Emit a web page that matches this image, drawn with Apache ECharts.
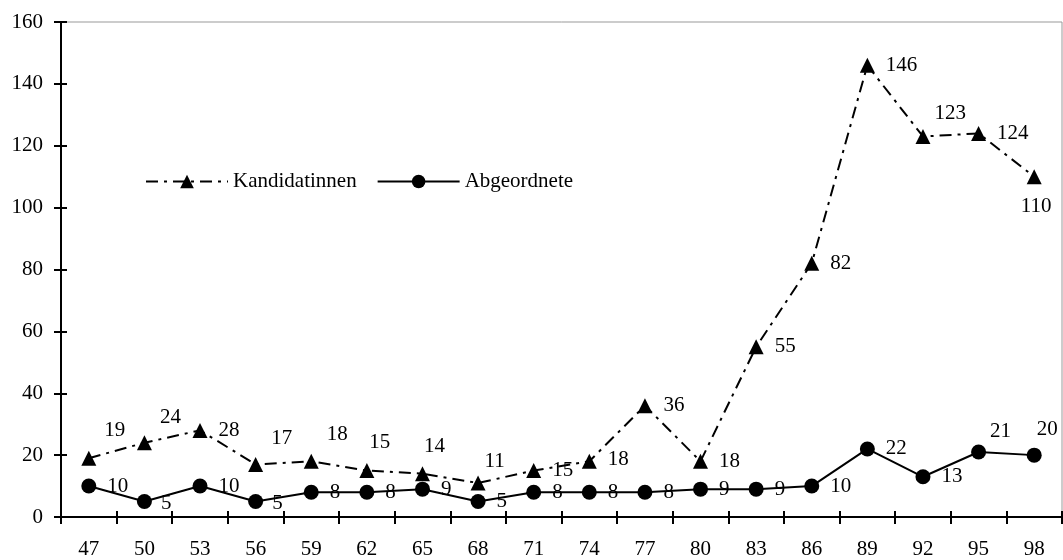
<!DOCTYPE html>
<html>
<head>
<meta charset="utf-8">
<script src="https://cdn.jsdelivr.net/npm/echarts@6/dist/echarts.min.js"></script>
<style>html,body{margin:0;padding:0;background:#fff}#c{width:1063px;height:560px}</style>
</head>
<body>
<div id="c"></div>
<script>
const categories = ['47','50','53','56','59','62','65','68','71','74','77','80','83','86','89','92','95','98'];
const kandidatinnen = [19,24,28,17,18,15,14,11,15,18,36,18,55,82,146,123,124,110];
const abgeordnete = [10,5,10,5,8,8,9,5,8,8,8,9,9,10,22,13,21,20];
const yTicks = { min: 0, max: 160, interval: 20 };

// label offsets (relative to default 'right' placement), by index
const kandOffsets = {0:[-3,-28],1:[-3,-25],3:[-3,-26],4:[-3,-27],5:[-16,-28],6:[-17,-27],7:[-12,-21],9:[0,-2],15:[-7,-23],17:[-32,30]};
const abgOffsets = {1:[-2,2],3:[-2,2],16:[-7,-21],17:[-16,-26]};

const FONT = '"Liberation Serif", "Times New Roman", serif';
const FS = 21;

function build(values, offsets) {
  return values.map((v, i) => {
    const o = offsets[i];
    return o ? { value: v, label: { offset: o } } : v;
  });
}

const chart = echarts.init(document.getElementById('c'), null, { renderer: 'canvas' });
chart.setOption({
  animation: false,
  backgroundColor: '#fff',
  textStyle: { fontFamily: FONT, color: '#000' },
  grid: { left: 61, right: 1, top: 22, bottom: 42, show: true, borderColor: '#999', borderWidth: 1, backgroundColor: 'transparent' },
  legend: {
    left: 140, top: 166,
    itemWidth: 82, itemHeight: 17, itemGap: 20,
    textStyle: { fontFamily: FONT, fontSize: FS, color: '#000' },
    data: ['Kandidatinnen', 'Abgeordnete']
  },
  xAxis: [{
    type: 'category', data: categories, boundaryGap: true,
    axisLine: { lineStyle: { color: '#000', width: 2 } },
    axisTick: { show: true, length: 7, lineStyle: { color: '#000', width: 2 } },
    axisLabel: { fontFamily: FONT, fontSize: FS, color: '#000', margin: 22 },
    splitLine: { show: false }
  }, {
    type: 'category', data: categories, boundaryGap: true, position: 'bottom',
    axisLine: { show: false },
    axisTick: { show: true, inside: true, length: 6, lineStyle: { color: '#000', width: 2 } },
    axisLabel: { show: false }, splitLine: { show: false }
  }],
  yAxis: [{
    type: 'value', min: yTicks.min, max: yTicks.max, interval: yTicks.interval,
    axisLine: { show: true, lineStyle: { color: '#000', width: 2 } },
    axisTick: { show: true, length: 7, lineStyle: { color: '#000', width: 2 } },
    axisLabel: { fontFamily: FONT, fontSize: FS, color: '#000', margin: 18 },
    splitLine: { show: false }
  }, {
    type: 'value', min: yTicks.min, max: yTicks.max, interval: yTicks.interval, position: 'left',
    axisLine: { show: false },
    axisTick: { show: true, inside: true, length: 6, lineStyle: { color: '#000', width: 2 } },
    axisLabel: { show: false }, splitLine: { show: false }
  }],
  series: [{
    name: 'Kandidatinnen', type: 'line', data: build(kandidatinnen, kandOffsets),
    symbol: 'triangle', symbolSize: 15,
    itemStyle: { color: '#000' },
    lineStyle: { color: '#000', width: 2, type: [12, 6, 3, 6] },
    label: { show: true, position: 'right', distance: 11, fontFamily: FONT, fontSize: FS, color: '#000' },
    z: 3
  }, {
    name: 'Abgeordnete', type: 'line', data: build(abgeordnete, abgOffsets),
    symbol: 'circle', symbolSize: 15,
    itemStyle: { color: '#000' },
    lineStyle: { color: '#000', width: 2 },
    label: { show: true, position: 'right', distance: 11, fontFamily: FONT, fontSize: FS, color: '#000' },
    z: 4
  }]
});
</script>
</body>
</html>
